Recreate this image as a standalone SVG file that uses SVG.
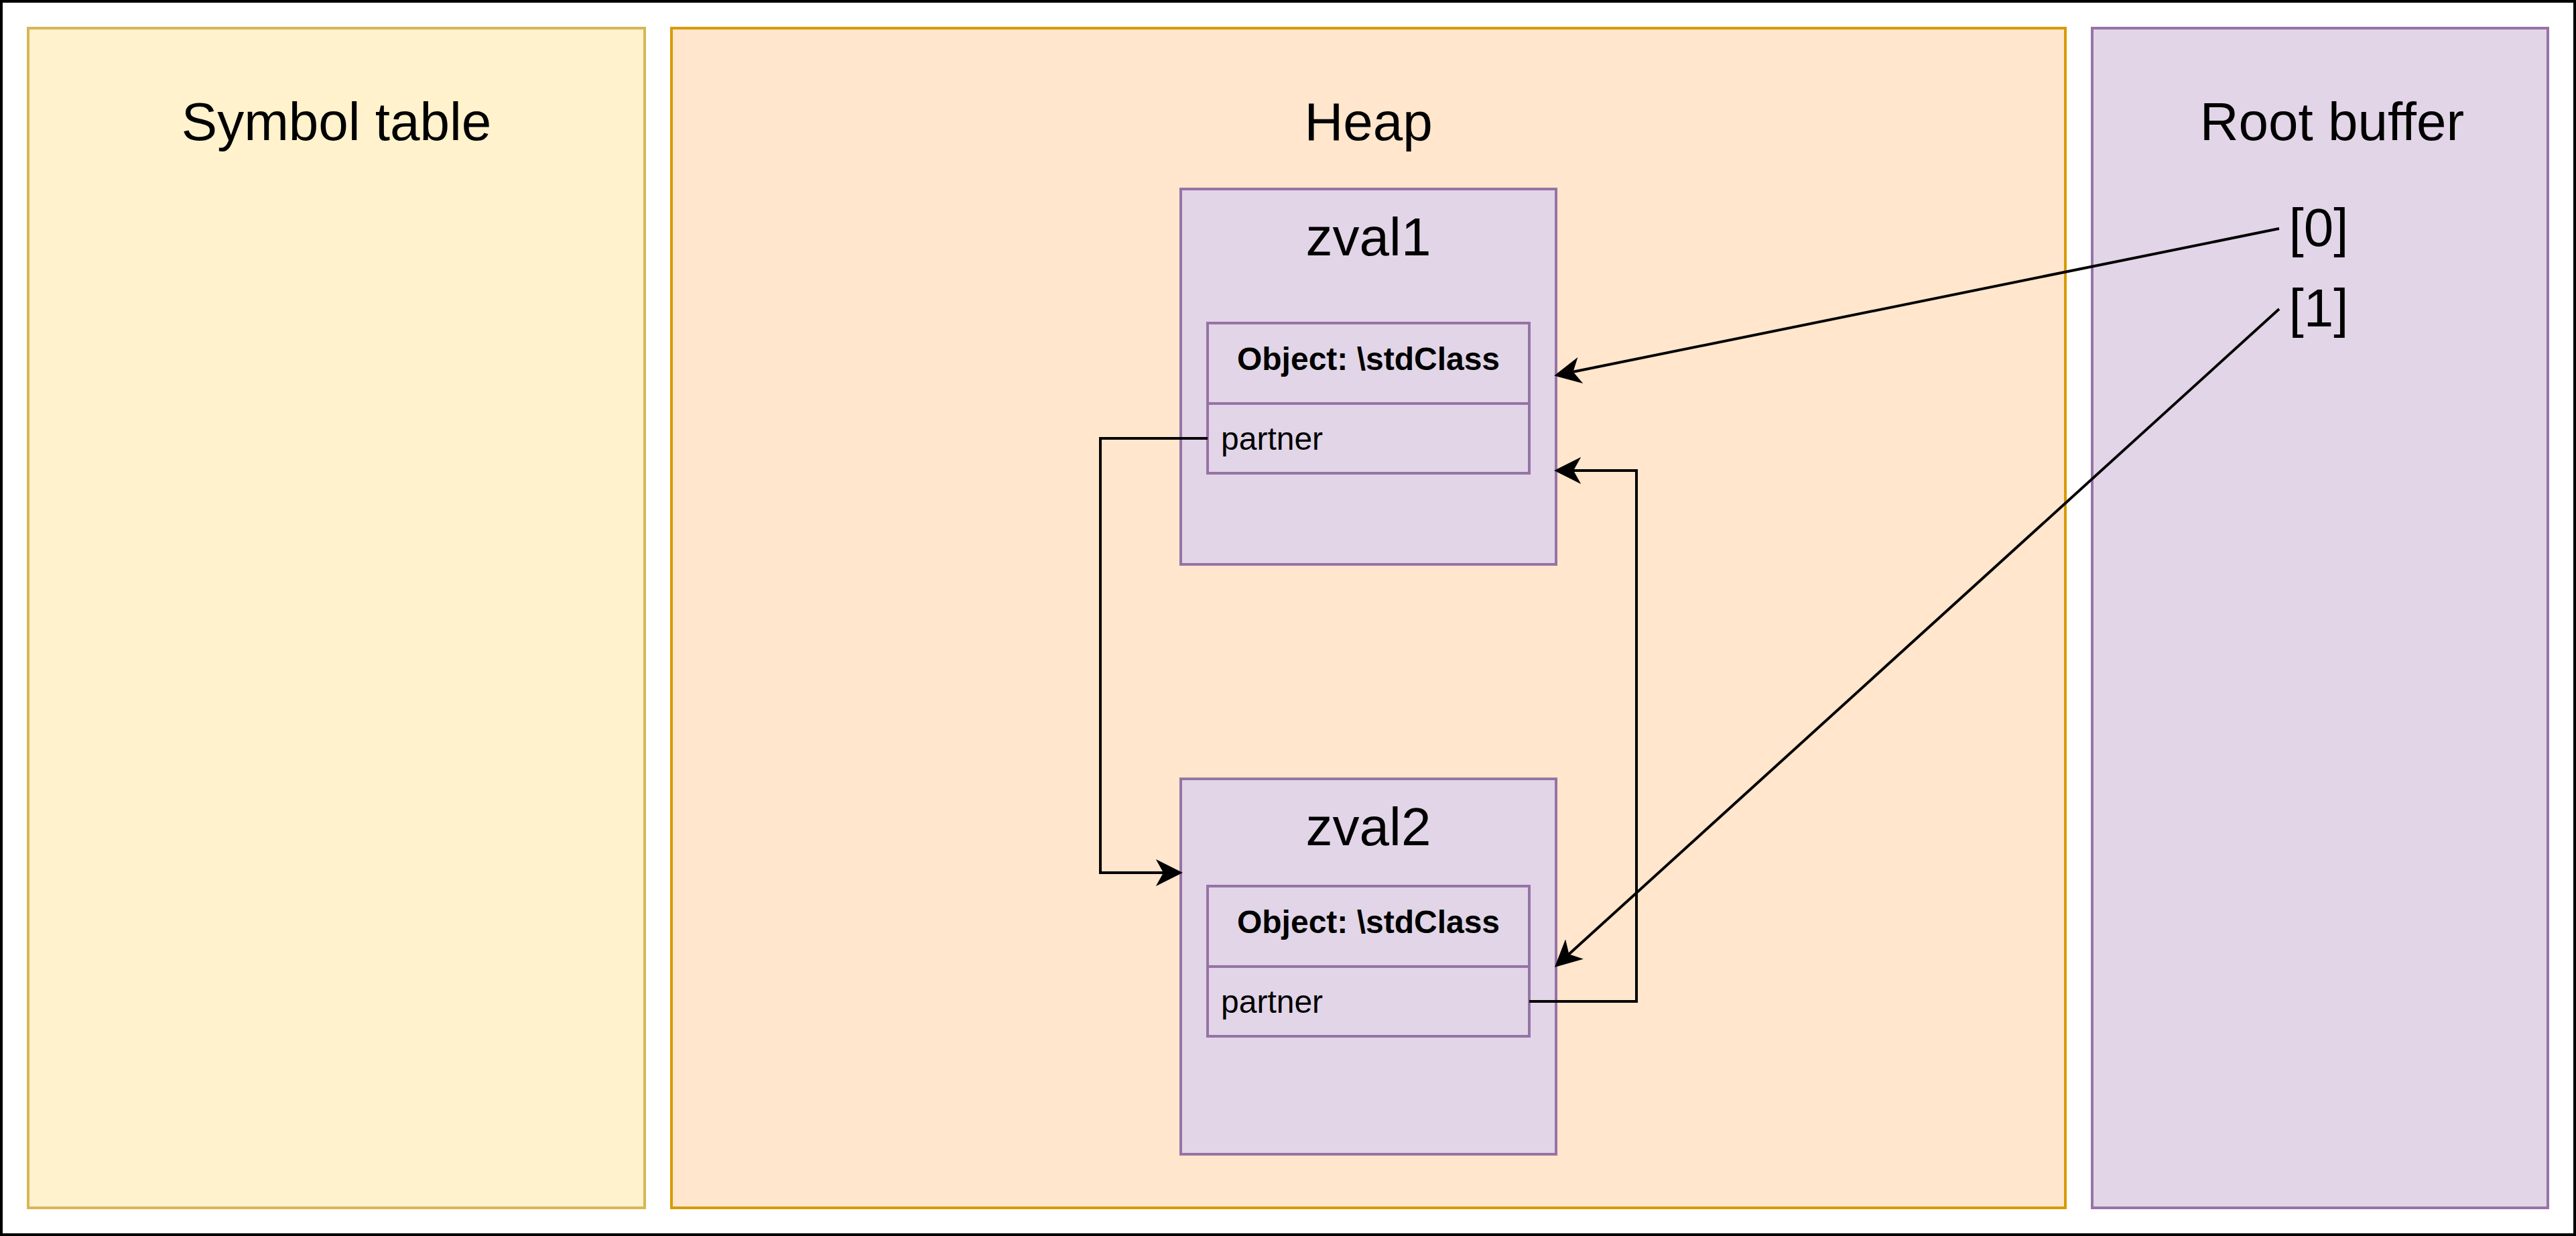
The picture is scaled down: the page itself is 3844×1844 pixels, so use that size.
<svg xmlns="http://www.w3.org/2000/svg" width="3844" height="1844" viewBox="0 0 3844 1844">
  <style>
    .t { font-family: "Liberation Sans", Arial, Helvetica, sans-serif; fill: #000000; }
    .title { font-size: 80px; text-anchor: middle; }
    .obj { font-size: 48px; font-weight: bold; text-anchor: middle; }
    .field { font-size: 48px; }
    .purple { fill: #e1d5e7; stroke: #9673a6; stroke-width: 4; }
    .edge { fill: none; stroke: #000000; stroke-width: 4; }
  </style>
  <defs>
    <marker id="arrow" markerUnits="userSpaceOnUse" markerWidth="40" markerHeight="40" viewBox="0 0 36 36" refX="10" refY="18" orient="auto">
      <path d="M36,18 L0,0 L10,18 L0,36 Z" fill="#000000"/>
    </marker>
  </defs>

  <rect id="frame" x="2" y="2" width="3840" height="1840" fill="#ffffff" stroke="#000000" stroke-width="4"/>

  <g id="symbol-table">
    <rect x="42" y="42" width="920" height="1760" fill="#fff2cc" stroke="#d6b656" stroke-width="4"/>
    <text class="t title" x="502" y="209">Symbol table</text>
  </g>

  <g id="heap">
    <rect x="1002" y="42" width="2080" height="1760" fill="#ffe6cc" stroke="#d79b00" stroke-width="4"/>
    <text class="t title" x="2042" y="209">Heap</text>
  </g>

  <g id="root-buffer">
    <rect class="purple" x="3122" y="42" width="680" height="1760"/>
    <text class="t title" x="3480" y="209">Root buffer</text>
  </g>

  <g id="root-0">
    <text class="t title" x="3460" y="367">[0]</text>
  </g>
  <g id="root-1">
    <text class="t title" x="3460" y="487">[1]</text>
  </g>

  <g id="zval1">
    <rect class="purple" x="1762" y="282" width="560" height="560"/>
    <text class="t title" x="2042" y="381">zval1</text>
  </g>
  <g id="zval1-object">
    <rect class="purple" x="1802" y="482" width="480" height="224"/>
    <line x1="1802" y1="602" x2="2282" y2="602" stroke="#9673a6" stroke-width="4"/>
    <text class="t obj" x="2042" y="552">Object: \stdClass</text>
    <text class="t field" x="1822" y="671">partner</text>
  </g>

  <g id="zval2">
    <rect class="purple" x="1762" y="1162" width="560" height="560"/>
    <text class="t title" x="2042" y="1261">zval2</text>
  </g>
  <g id="zval2-object">
    <rect class="purple" x="1802" y="1322" width="480" height="224"/>
    <line x1="1802" y1="1442" x2="2282" y2="1442" stroke="#9673a6" stroke-width="4"/>
    <text class="t obj" x="2042" y="1392">Object: \stdClass</text>
    <text class="t field" x="1822" y="1511">partner</text>
  </g>

  <g id="connectors">
    <path class="edge" d="M1802,654 H1642 V1302 H1736" marker-end="url(#arrow)"/>
    <path class="edge" d="M2282,1494 H2442 V702 H2348" marker-end="url(#arrow)"/>
    <path class="edge" d="M3401,341 L2347.5,554.8" marker-end="url(#arrow)"/>
    <path class="edge" d="M3401,461 L2341.3,1423.5" marker-end="url(#arrow)"/>
  </g>
</svg>
